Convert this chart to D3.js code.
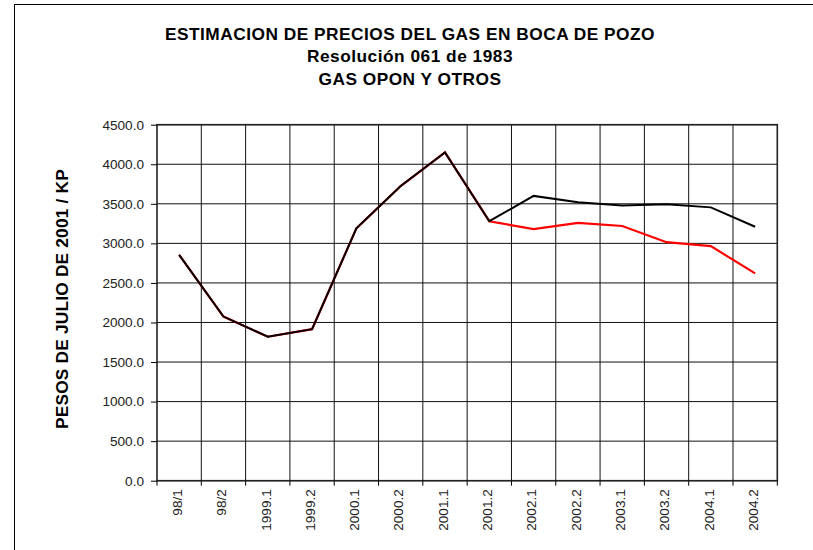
<!DOCTYPE html>
<html>
<head>
<meta charset="utf-8">
<script src="https://cdn.jsdelivr.net/npm/d3@7"></script>
<style>
  body { margin: 0; background: #fff; }
  svg { display: block; font-family: "Liberation Sans", Arial, sans-serif; }
</style>
</head>
<body>
<svg class="chart1"></svg>
<script>
// categories (semesters)
const periods = ["98/1", "98/2", "1999.1", "1999.2", "2000.1", "2000.2", "2001.1",
  "2001.2", "2002.1", "2002.2", "2003.1", "2003.2", "2004.1", "2004.2"];
// black series (upper estimate)
const priceHigh = [2855, 2075, 1820, 1915, 3190, 3725, 4150, 3280, 3600, 3520, 3480, 3495, 3455, 3210];
// red series (lower estimate)
const priceLow = [2855, 2075, 1820, 1915, 3190, 3725, 4150, 3280, 3180, 3260, 3220, 3015, 2965, 2620];
const yTicks = [0, 500, 1000, 1500, 2000, 2500, 3000, 3500, 4000, 4500];
const titleLines = ["ESTIMACION DE PRECIOS DEL GAS EN BOCA DE POZO", "Resolución 061 de 1983", "GAS OPON Y OTROS"];
const yTitle = "PESOS DE JULIO DE 2001 / KP";

const width = 813;
const height = 550;
const plotLeft = 157, plotRight = 777.3, plotTop = 124.7, plotBottom = 480.7;

const svg = d3.select('.chart1')
  .attr('width', width)
  .attr('height', height);

// outer chart frame (runs off the picture on right/bottom)
svg.append('rect')
  .attr('x', 14.5).attr('y', 4.5)
  .attr('width', 830).attr('height', 570)
  .attr('fill', 'none').attr('stroke', '#000').attr('stroke-width', 1);

const x = d3.scaleBand().domain(periods).range([plotLeft, plotRight]).padding(0);
const y = d3.scaleLinear().domain([0, 4500]).range([plotBottom, plotTop]);

// horizontal gridlines
svg.append('g')
  .selectAll('line')
  .data(yTicks)
  .enter().append('line')
  .attr('x1', plotLeft).attr('x2', plotRight)
  .attr('y1', d => y(d)).attr('y2', d => y(d))
  .attr('stroke', '#111').attr('stroke-width', 1);

// vertical gridlines at category boundaries
svg.append('g')
  .selectAll('line')
  .data(periods.slice(1))
  .enter().append('line')
  .attr('x1', d => x(d)).attr('x2', d => x(d))
  .attr('y1', plotTop).attr('y2', plotBottom)
  .attr('stroke', '#111').attr('stroke-width', 1);

// plot border
svg.append('rect')
  .attr('x', plotLeft).attr('y', plotTop)
  .attr('width', plotRight - plotLeft).attr('height', plotBottom - plotTop)
  .attr('fill', 'none').attr('stroke', '#222').attr('stroke-width', 1.6);

// y axis
const yAxis = svg.append('g')
  .attr('transform', `translate(${plotLeft}, 0)`)
  .call(d3.axisLeft(y).tickValues(yTicks).tickSize(6).tickPadding(7)
    .tickFormat(d => d.toFixed(1)));
yAxis.select('.domain').remove();
yAxis.selectAll('line').attr('stroke', '#000');
yAxis.selectAll('text')
  .style('font-size', '13.6px')
  .style('font-family', '"Liberation Sans", Arial, sans-serif')
  .attr('fill', '#222');

// x axis: ticks at category boundaries, labels rotated
const xAxis = svg.append('g')
  .attr('transform', `translate(0, ${plotBottom})`);
xAxis.selectAll('line')
  .data(periods.concat(['end']))
  .enter().append('line')
  .attr('x1', (d, i) => i < periods.length ? x(d) : plotRight)
  .attr('x2', (d, i) => i < periods.length ? x(d) : plotRight)
  .attr('y1', 0).attr('y2', 5)
  .attr('stroke', '#000');
xAxis.selectAll('text')
  .data(periods)
  .enter().append('text')
  .attr('transform', d => `translate(${x(d) + x.bandwidth() / 2 - 2}, 8.5) rotate(-90)`)
  .attr('text-anchor', 'end')
  .attr('dy', '0.35em')
  .style('font-size', '13.6px')
  .attr('fill', '#222')
  .text(d => d);

// series lines
const line = d3.line()
  .x((d, i) => x(periods[i]) + x.bandwidth() / 2)
  .y(d => y(d));

svg.append('path')
  .datum(priceLow)
  .attr('d', line)
  .attr('fill', 'none')
  .attr('stroke', '#ff0000')
  .attr('stroke-width', 2.2);

svg.append('path')
  .datum(priceHigh)
  .attr('d', line)
  .attr('fill', 'none')
  .attr('stroke', '#000')
  .attr('stroke-width', 2);

// chart title
svg.append('g')
  .selectAll('text')
  .data(titleLines)
  .enter().append('text')
  .attr('x', 410)
  .attr('y', (d, i) => 39.5 + i * 22.5)
  .attr('text-anchor', 'middle')
  .style('font-size', '17.3px')
  .style('letter-spacing', '0.5px')
  .style('font-weight', 'bold')
  .attr('fill', '#000')
  .text(d => d);

// y axis title
svg.append('text')
  .attr('transform', `translate(68, 299) rotate(-90)`)
  .attr('text-anchor', 'middle')
  .style('font-size', '17.3px')
  .style('letter-spacing', '0.2px')
  .style('font-weight', 'bold')
  .attr('fill', '#000')
  .text(yTitle);
</script>
</body>
</html>
